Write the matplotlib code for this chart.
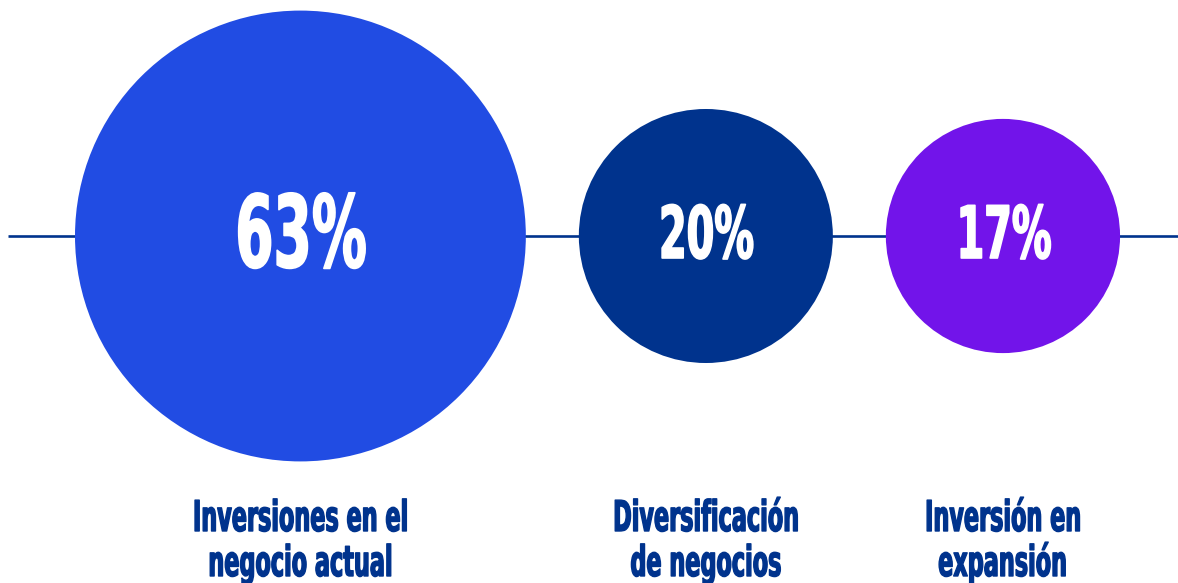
import numpy as np
import matplotlib
matplotlib.use("Agg")
import matplotlib.pyplot as plt
from matplotlib.patches import Circle
from matplotlib.patheffects import AbstractPathEffect
from matplotlib.transforms import Affine2D
from matplotlib import font_manager as fm

# Data
categories = ["Inversiones en el\nnegocio actual",
              "Diversificación\nde negocios",
              "Inversión en\nexpansión"]
shares = [63, 20, 17]
value_labels = ["63%", "20%", "17%"]
colors = ["#214CE3", "#00338D", "#7214EA"]

NAVY = "#00338D"


def pick_font(candidates):
    for name, squeeze in candidates:
        try:
            fm.findfont(fm.FontProperties(family=name, weight="bold"),
                        fallback_to_default=False)
            return name, squeeze
        except ValueError:
            continue
    return "DejaVu Sans", 0.55


FONT, SQUEEZE = pick_font([("Liberation Sans Narrow", 0.78),
                           ("DejaVu Sans", 0.55)])


class Squeeze(AbstractPathEffect):
    """Compress glyphs horizontally about the centre of the run and
    embolden them with a thin outline in the fill colour."""

    def __init__(self, sx, stroke=0.0):
        super().__init__()
        self.sx = sx
        self.stroke = stroke

    def draw_path(self, renderer, gc, tpath, affine, rgbFace=None):
        ext = tpath.get_extents()
        cx = 0.5 * (ext.x0 + ext.x1)
        t = Affine2D().translate(-cx, 0).scale(self.sx, 1).translate(cx, 0) + affine
        g = renderer.new_gc()
        g.copy_properties(gc)
        if self.stroke > 0 and rgbFace is not None:
            g.set_linewidth(self.stroke)
            g.set_foreground(rgbFace)
            g.set_joinstyle("round")
        renderer.draw_path(g, tpath, t, rgbFace)
        g.restore()


W, H = 1178, 583
fig = plt.figure(figsize=(W / 100, H / 100), dpi=100)
ax = fig.add_axes([0, 0, 1, 1])
ax.set_xlim(0, W)
ax.set_ylim(H, 0)
ax.set_aspect("equal")
ax.axis("off")

# Circle area proportional to share
scale = 28.4
radii = [scale * np.sqrt(v) for v in shares]
cy = 236
gap = 53
left = 75
centers = []
x = left
for r in radii:
    centers.append(x + r)
    x += 2 * r + gap

ax.plot([8, W], [cy, cy], color=NAVY, lw=1.9, zorder=1, solid_capstyle="butt")

pct_sizes = [72, 52, 52]
pct_base = [267, 258, 258]
for cx, r, col, lab, fs, yb in zip(centers, radii, colors, value_labels,
                                   pct_sizes, pct_base):
    ax.add_patch(Circle((cx, cy), r, facecolor=col, edgecolor="none", zorder=2))
    ax.text(cx, yb, lab, ha="center", va="baseline", color="white",
            fontsize=fs, fontweight="bold", family=FONT, zorder=3,
            path_effects=[Squeeze(SQUEEZE, stroke=1.2)])

for cx, cat in zip(centers, categories):
    for i, line in enumerate(cat.split("\n")):
        ax.text(cx, 531 + 45 * i, line, ha="center", va="baseline",
                color=NAVY, fontsize=30.5, fontweight="bold", family=FONT,
                path_effects=[Squeeze(SQUEEZE * 0.96, stroke=1.0)])

fig.savefig("out.png", dpi=100, facecolor="white")
